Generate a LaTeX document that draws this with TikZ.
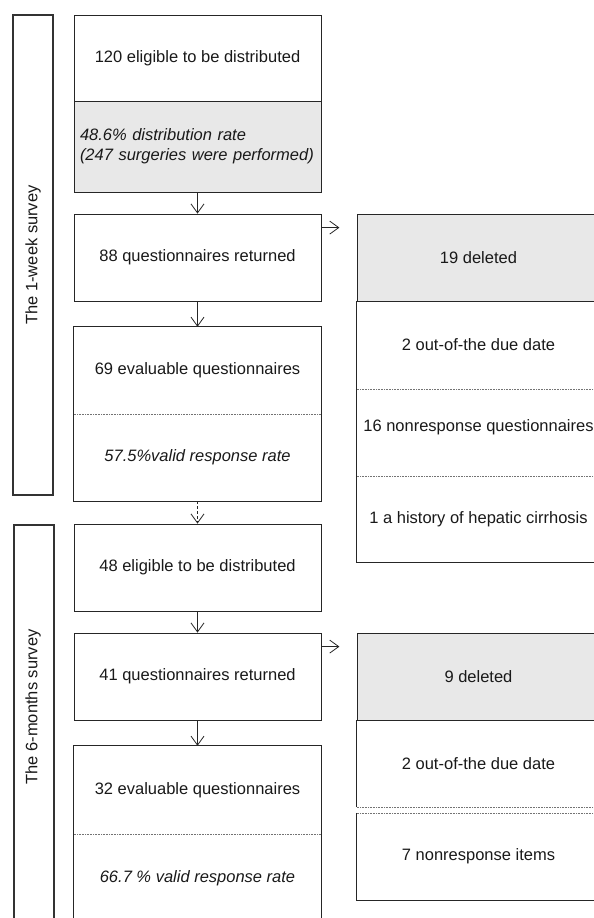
\documentclass[tikz,border=0pt]{standalone}
\usepackage{fontspec}
\setmainfont{Liberation Sans}
\usetikzlibrary{arrows.meta}

\newcommand\chartfont{\fontsize{16.5}{20}\selectfont}

\begin{document}
\begin{tikzpicture}[x=1pt, y=-1pt,
    every node/.style={font=\chartfont, text=black!90},
    part/.style={minimum width=247pt, minimum height=87pt, inner sep=0pt, align=center},
    box/.style={part, draw=black!85, line width=0.8pt},
    grey/.style={fill=black!9},
    rate/.style={font=\chartfont\itshape},
    frame/.style={draw=black!85, line width=0.8pt},
    sep/.style={draw=black!55, line width=0.6pt, dash pattern=on 0.8pt off 0.8pt},
    survey/.style={draw=black!80, line width=1.6pt},
    arr/.style={draw=black!85, line width=0.8pt, -{Straight Barb[length=9pt,width=13pt]}}]
  \useasboundingbox (0,0) rectangle (594,918);
  \clip (0,0) rectangle (594,918);

  % survey brackets
  \draw[survey] (13,15) rectangle (53,495);
  \node[rotate=90] (w1) at (33,255) {The 1-week survey};
  \draw[survey] (14,525) rectangle (54,940);
  \node[rotate=90] (w2) at (33,707) {The 6-months survey};

  % 1-week survey
  \node[box, minimum height=86pt] (e1) at (197.5,58) {120 eligible to be distributed};
  \node[box, grey, rate, minimum height=91pt, text width=235pt, align=left] (r1) at (197.5,146.5)
    {48.6\% distribution rate\\(247 surgeries were performed)};
  \node[box] (q1) at (197.5,257.5) {88 questionnaires returned};
  \node[part] (v1) at (197.5,370.5) {69 evaluable questionnaires};
  \node[part, rate] (v1r) at (197.5,457.5) {57.5\%valid response rate};
  \draw[frame] (v1.north west) rectangle (v1r.south east);
  \draw[sep] (v1.south west) -- (v1.south east);

  \node[box, grey, minimum width=243pt] (d1) at (478.5,257.5) {19 deleted};
  \node[part, minimum width=243pt, minimum height=88pt] (o1) at (478.5,345) {2 out-of-the due date};
  \node[part, minimum width=243pt, text depth=14pt] (n1) at (478.5,432.5) {16 nonresponse questionnaires};
  \node[part, minimum width=243pt, minimum height=86pt] (h1) at (478.5,519) {1 a history of hepatic cirrhosis};
  \draw[frame] (d1.south west) rectangle (h1.south east);
  \draw[sep] (o1.south west) -- (o1.south east);
  \draw[sep] (n1.south west) -- (n1.south east);

  % 6-months survey
  \node[box] (e2) at (197.5,567.5) {48 eligible to be distributed};
  \node[box] (q2) at (197.5,676.5) {41 questionnaires returned};
  \node[part, minimum height=88pt] (v2) at (197.5,790) {32 evaluable questionnaires};
  \node[part, rate, minimum height=88pt] (v2r) at (197.5,878) {66.7 \% valid response rate};
  \draw[frame] (v2.north west) rectangle (v2r.south east);
  \draw[sep] (v2.south west) -- (v2.south east);

  \node[box, grey, minimum width=243pt] (d2) at (478.5,676.5) {9 deleted};
  \node[part, minimum width=243pt] (o2) at (478.5,763.5) {2 out-of-the due date};
  \node[part, minimum width=243pt] (n2) at (478.5,856.5) {7 nonresponse items};
  \draw[frame] (o2.south west) -- (o2.north west) (o2.north east) -- (o2.south east);
  \draw[sep] (o2.south west) -- (o2.south east);
  \draw[frame] (n2.north west) -- (n2.south west) -- (n2.south east) -- (n2.north east);
  \draw[sep] (n2.north west) -- (n2.north east);

  % arrows
  \coordinate (t1) at ([shift={(18pt,-14pt)}]q1.north east);
  \coordinate (t2) at ([shift={(18pt,-14pt)}]q2.north east);
  \draw[arr] (r1) -- (q1);
  \draw[arr] (q1) -- (v1);
  \draw[arr] ([yshift=-14pt]q1.north east) -- (t1);
  \draw[arr, dash pattern=on 3pt off 2pt] (v1r) -- (e2);
  \draw[arr] (e2) -- (q2);
  \draw[arr] (q2) -- (v2);
  \draw[arr] ([yshift=-14pt]q2.north east) -- (t2);
\end{tikzpicture}
\end{document}
